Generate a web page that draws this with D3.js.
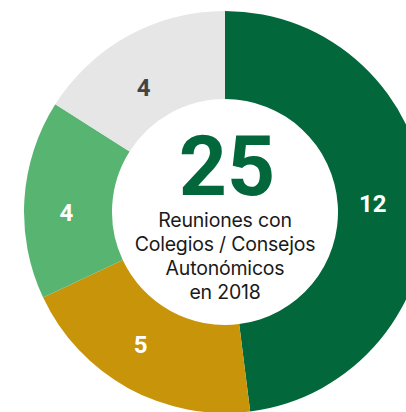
<!DOCTYPE html>
<html><head><meta charset="utf-8">
<script src="https://cdn.jsdelivr.net/npm/d3@7"></script>
<style>html,body{margin:0;padding:0;background:#fff;}svg{display:block;}</style>
</head><body>
<svg id="chart" width="406" height="412"></svg>
<script>
const categories = ["A", "B", "C", "D"];
const values = [12, 5, 4, 4];
const colors = ["#02673A", "#C8940A", "#58B571", "#E6E6E6"];
const labelColors = ["#ffffff", "#ffffff", "#ffffff", "#444444"];
const totalLabel = "25";
const subtitleLines = ["Reuniones con", "Colegios / Consejos", "Autonómicos", "en 2018"];

const svg = d3.select("#chart");
const cx = 225, cy = 212, R = 201, r = 113;
const g = svg.append("g").attr("transform", `translate(${cx},${cy})`);

const data = categories.map((c, i) => ({cat: c, value: values[i], i}));
const pie = d3.pie().value(d => d.value).sort(null);
const arcs = pie(data);
const arc = d3.arc().innerRadius(r).outerRadius(R);

g.selectAll("path.slice").data(arcs).enter().append("path")
  .attr("class", "slice")
  .attr("d", arc)
  .attr("fill", d => colors[d.data.i]);

// labels: placed near the ring middle, with small manual nudges
const labelArc = d3.arc().innerRadius(150).outerRadius(150);
const nudges = [[-2, 1], [-12, 2], [-9, 10], [-9, 7]];
g.selectAll("text.lab").data(arcs).enter().append("text")
  .attr("class", "lab")
  .attr("x", d => labelArc.centroid(d)[0] + nudges[d.data.i][0])
  .attr("y", d => labelArc.centroid(d)[1] + nudges[d.data.i][1])
  .attr("text-anchor", "middle")
  .attr("dominant-baseline", "central")
  .attr("font-family", "Roboto, sans-serif")
  .attr("font-weight", 700)
  .attr("font-size", 24)
  .attr("fill", d => labelColors[d.data.i])
  .text(d => d.data.value);

g.append("text")
  .attr("x", 2).attr("y", -17)
  .attr("text-anchor", "middle")
  .attr("font-family", "Roboto, sans-serif")
  .attr("font-weight", 700)
  .attr("font-size", 84)
  .attr("fill", "#02673A")
  .text(totalLabel);

g.selectAll("text.sub").data(subtitleLines).enter().append("text")
  .attr("class", "sub")
  .attr("x", 0)
  .attr("y", (d, i) => 15 + i * 24)
  .attr("text-anchor", "middle")
  .attr("font-family", "Inter, sans-serif")
  .attr("font-size", 19.5)
  .attr("letter-spacing", -0.2)
  .attr("fill", "#1a1a1a")
  .text(d => d);
</script>
</body></html>
